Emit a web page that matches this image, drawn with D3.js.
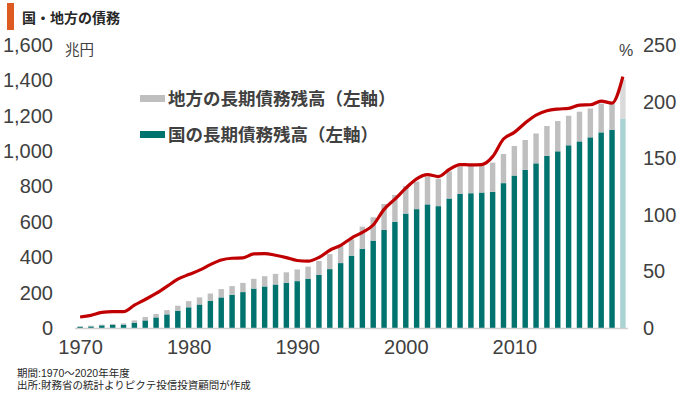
<!DOCTYPE html>
<html>
<head>
<meta charset="utf-8">
<script src="https://cdn.jsdelivr.net/npm/d3@7"></script>
<style>
  html, body { margin: 0; padding: 0; background: #fff; }
  svg { display: block; }
  .tick text { font-family: 'Liberation Sans Narrow', 'Arial Narrow', 'Liberation Sans', sans-serif; font-size: 20px; fill: #404040; }
  .jp { font-family: 'Noto Sans CJK JP', 'Noto Sans', sans-serif; fill: #404040; }
  .note { font-family: 'Liberation Sans', 'Noto Sans CJK JP', sans-serif; fill: #262626; font-size: 10.5px; }
</style>
</head>
<body>
<svg id="chart" width="680" height="396"></svg>
<script>
// ---- data ----
const years = d3.range(1970, 2021);
// 国の長期債務残高 (兆円)
const national = [7, 9, 15, 17, 19, 30, 43, 60, 77, 98,
  117, 133, 154, 173, 188, 203, 223, 235, 246, 255,
  265, 279, 300, 333, 367, 409, 448, 494, 554, 601,
  647, 672, 699, 689, 732, 759, 762, 766, 770, 819,
  862, 894, 931, 973, 999, 1033, 1055, 1078, 1106, 1121,
  1185];
// 地方の長期債務残高 (兆円)
const local = [4, 4, 4, 6, 7, 13, 19, 19, 24, 28,
  35, 40, 41, 47, 49, 52, 55, 58, 60, 60,
  66, 68, 79, 85, 96, 92, 125, 132, 147, 151,
  156, 156, 157, 155, 153, 154, 156, 152, 165, 165,
  167, 169, 169, 169, 171, 167, 168, 163, 163, 151,
  220];
// 対GDP比 (%)
const ratio = [9.7, 11.2, 13.8, 14.4, 14.4, 20.2, 25.2, 30.5, 36.7, 43.1,
  47.2, 51.1, 56.0, 60.1, 61.6, 61.9, 65.5, 65.7, 64.3, 62.2,
  59.6, 59.0, 62.3, 68.7, 73.0, 79.5, 84.5, 91.0, 104.8, 113.8,
  123.5, 131.8, 135.5, 133.8, 140.0, 144.4, 144.1, 144.4, 151.4, 167.0,
  172.8, 181.1, 188.1, 191.9, 193.4, 194.0, 196.9, 197.2, 200.4, 198.7,
  222.1];
const leftTicks = [0, 200, 400, 600, 800, 1000, 1200, 1400, 1600];
const rightTicks = [0, 50, 100, 150, 200, 250];
const xTicks = [1970, 1980, 1990, 2000, 2010];
const legendLabels = ['地方の長期債務残高（左軸）', '国の長期債務残高（左軸）'];
const title = '国・地方の債務';
const notes = ['期間:1970～2020年年度', '出所:財務省の統計よりピクテ投信投資顧問が作成'];

// ---- drawing ----
const svg = d3.select('#chart');
const x = d3.scaleBand().domain(years).range([75, 628]).paddingInner(0.5).paddingOuter(0.22);
const yL = d3.scaleLinear().domain([0, 1600]).range([328, 45]);
const yR = d3.scaleLinear().domain([0, 250]).range([328, 45]);
const last = years[years.length - 1];

const cNat = '#00736E', cLoc = '#BFBFBF', cNatL = '#A9D2D2', cLocL = '#DADADA';

// title
svg.append('rect').attr('x', 7).attr('y', 3).attr('width', 7).attr('height', 27).attr('fill', '#DD5A20');
svg.append('text').attr('class', 'jp').attr('x', 22).attr('y', 23)
  .style('font-size', '14px').style('font-weight', 'bold').style('fill', '#262626').text(title);

// units
svg.append('text').attr('class', 'jp').attr('x', 65).attr('y', 55).style('font-size', '14.5px').text('兆円');
svg.append('text').attr('x', 619).attr('y', 56)
  .style('font-family', "'Liberation Sans', sans-serif").style('font-size', '16px').style('fill', '#404040').text('%');

// axes
const gL = svg.append('g').attr('transform', 'translate(60,0)')
  .call(d3.axisLeft(yL).tickValues(leftTicks).tickSize(0).tickPadding(7).tickFormat(d3.format(',')));
gL.select('.domain').remove();
const gR = svg.append('g').attr('transform', 'translate(636,0)')
  .call(d3.axisRight(yR).tickValues(rightTicks).tickSize(0).tickPadding(7));
gR.select('.domain').remove();
const xTickScale = d3.scaleLinear().domain([1970, 2020]).range([x(1970) + x.bandwidth() / 2, x(2020) + x.bandwidth() / 2]);

// bars
const data = years.map((yr, i) => ({ yr, nat: national[i], loc: local[i], r: ratio[i] }));
svg.append('g').selectAll('rect.nat').data(data).join('rect')
  .attr('x', d => x(d.yr)).attr('width', x.bandwidth())
  .attr('y', d => yL(d.nat)).attr('height', d => yL(0) - yL(d.nat))
  .attr('fill', d => d.yr === last ? cNatL : cNat);
svg.append('g').selectAll('rect.loc').data(data).join('rect')
  .attr('x', d => x(d.yr)).attr('width', x.bandwidth())
  .attr('y', d => yL(d.nat + d.loc)).attr('height', d => yL(d.nat) - yL(d.nat + d.loc))
  .attr('fill', d => d.yr === last ? cLocL : cLoc);

// x axis (baseline)
const gX = svg.append('g').attr('transform', 'translate(0,328)')
  .call(d3.axisBottom(xTickScale).tickValues(xTicks).tickSize(0).tickPadding(12).tickFormat(d3.format('d')));
gX.select('.domain').attr('d', `M${x.range()[0]},0.5H${x.range()[1]}`).attr('stroke', '#D0D0D0').attr('stroke-width', 1.5);

// line
const line = d3.line().x(d => x(d.yr) + x.bandwidth() / 2).y(d => yR(d.r)).curve(d3.curveMonotoneX);
svg.append('path').datum(data).attr('d', line).attr('fill', 'none')
  .attr('stroke', '#C00000').attr('stroke-width', 3.2).attr('stroke-linejoin', 'round');

// legend
const legColors = [cLoc, cNat];
const legY = [98.5, 134.5];
legendLabels.forEach((lab, i) => {
  svg.append('rect').attr('x', 140).attr('y', legY[i] - 3.5).attr('width', 25).attr('height', 7).attr('fill', legColors[i]);
  svg.append('text').attr('class', 'jp').attr('x', 168).attr('y', legY[i]).attr('dy', '0.36em')
    .style('font-size', '17.5px').style('font-weight', 'bold').text(lab);
});

// notes
notes.forEach((t, i) => {
  svg.append('text').attr('class', 'note').attr('x', 17).attr('y', 376.8 + i * 11.8).text(t);
});
</script>
</body>
</html>
